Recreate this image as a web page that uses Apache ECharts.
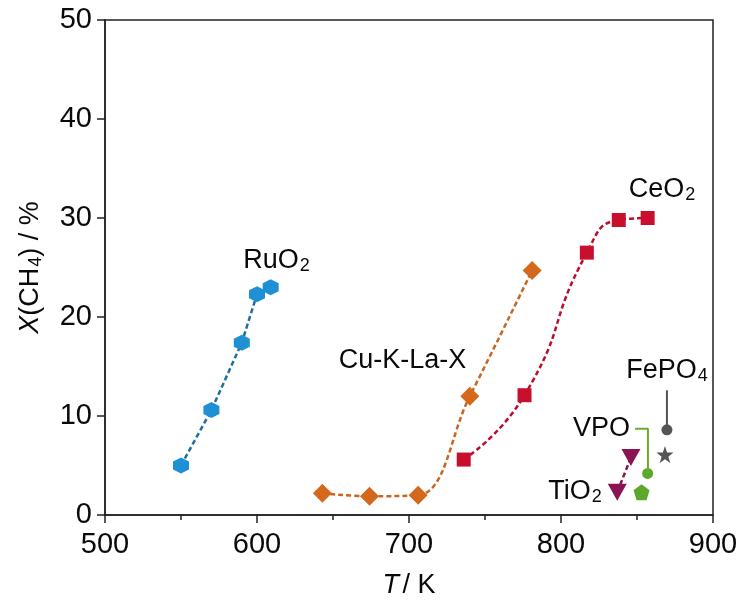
<!DOCTYPE html>
<html><head><meta charset="utf-8">
<script src="https://cdn.jsdelivr.net/npm/echarts@6/dist/echarts.min.js"></script>
<style>html,body{margin:0;padding:0;background:#fff}#c{width:743px;height:601px}</style>
</head><body><div id="c"></div>
<script>
// ---- data ----
const ruO2 = [[550, 5.0], [570, 10.6], [590, 17.4], [600, 22.3], [609, 23.0]];
const cuKLaX = [[643, 2.2], [674, 1.9], [706, 2.0], [740, 12.0], [781, 24.7]];
const ceO2 = [[736, 5.6], [776, 12.1], [817, 26.5], [838, 29.8], [857, 30.0]];
const tiO2 = [[837, 2.3], [846, 5.8]];
const vpo = [[857, 4.2]];
const vpoPent = [[853, 2.3]];
const fePO4 = [[869.7, 8.6]];
const fePO4Star = [[868.4, 6.1]];
const xTicks = [500, 600, 700, 800, 900];
const yTicks = [0, 10, 20, 30, 40, 50];
// annotation anchors (data coords) and leaders
const labels = [
  {x: 612.8, y: 25.7, t: '{n|RuO}{s|2}'},
  {x: 695.7, y: 15.6, t: '{n|Cu-K-La-X}'},
  {x: 866.4, y: 32.8, t: '{n|CeO}{s|2}'},
  {x: 869.7, y: 14.5, t: '{n|FePO}{s|4}'},
  {x: 826.6, y: 8.7, t: '{n|VPO}'},
  {x: 809.2, y: 2.3, t: '{n|TiO}{s|2}'}
];
const fePO4Leader = [[869.7, 12.6], [869.7, 8.6]];
const vpoLeader = [[848.7, 8.7], [857.2, 8.7], [857.2, 4.2]];

const FS = 27;
const TFS = 29;
const FF = 'Liberation Sans, Arial';
const TC = '#0a0a0a';
const rich = {
  n: {fontSize: FS, fontFamily: FF, color: TC, lineHeight: 28, verticalAlign: 'top', textBorderWidth: 0},
  s: {fontSize: 18, fontFamily: FF, color: TC, lineHeight: 18, padding: [14, 0, 0, 1], verticalAlign: 'bottom', textBorderWidth: 0},
  i: {fontSize: FS, fontFamily: FF, color: TC, fontStyle: 'italic', lineHeight: 28, verticalAlign: 'top', textBorderWidth: 0}
};

const chart = echarts.init(document.getElementById('c'));
const axisCol = '#222';
chart.setOption({
  animation: false,
  grid: {left: 105, right: 30, top: 20, bottom: 86, containLabel: false, outerBoundsMode: 'none',
         show: true, borderColor: axisCol, borderWidth: 1.5, backgroundColor: 'transparent'},
  xAxis: {
    type: 'value', min: xTicks[0], max: xTicks[xTicks.length - 1], interval: 100,
    name: '{i|T} {n|/ K}', nameLocation: 'middle', nameGap: 57,
    nameTextStyle: {rich: rich},
    axisLine: {lineStyle: {color: axisCol, width: 1.5}},
    axisTick: {length: 8, lineStyle: {color: axisCol, width: 1.5}},
    minorTick: {show: true, splitNumber: 2, length: 5, lineStyle: {color: axisCol, width: 1.5}},
    axisLabel: {fontSize: TFS, color: TC, fontFamily: FF, margin: 15},
    splitLine: {show: false}
  },
  yAxis: {
    type: 'value', min: yTicks[0], max: yTicks[yTicks.length - 1], interval: 10,
    name: '{i|X}{n|(CH}{s|4}{n|) / %}', nameLocation: 'middle', nameGap: 60, nameRotate: 90,
    nameTextStyle: {rich: rich},
    axisLine: {lineStyle: {color: axisCol, width: 1.5}},
    axisTick: {length: 8, lineStyle: {color: axisCol, width: 1.5}},
    axisLabel: {fontSize: TFS, color: TC, fontFamily: FF, margin: 13},
    splitLine: {show: false}
  },
  series: [
    {type: 'line', data: ruO2, smooth: false, symbol: 'path://M0,-10L8.66,-5L8.66,5L0,10L-8.66,5L-8.66,-5Z', symbolSize: 16,
     itemStyle: {color: '#1f90d3'}, lineStyle: {color: '#1d6f9e', width: 2.5, type: [5, 3]}},
    {type: 'line', data: cuKLaX, smooth: 0.4, symbol: 'diamond', symbolSize: 19,
     itemStyle: {color: '#d4681c'}, lineStyle: {color: '#c8651e', width: 2.5, type: [5, 3]}},
    {type: 'line', data: ceO2, smooth: 0.55, symbol: 'rect', symbolSize: 14,
     itemStyle: {color: '#c8102e'}, lineStyle: {color: '#b8102e', width: 2.5, type: [5, 3]}},
    {type: 'line', data: tiO2, symbol: 'triangle', symbolRotate: 180, symbolSize: [19, 17],
     itemStyle: {color: '#8a1452'}, lineStyle: {color: '#8a1452', width: 2.5, type: [5, 3]}},
    {type: 'line', data: vpoLeader, symbol: 'none', lineStyle: {color: '#6aab2e', width: 2}},
    {type: 'line', data: fePO4Leader, symbol: 'none', lineStyle: {color: '#555', width: 2}},
    {type: 'scatter', data: vpo, symbol: 'circle', symbolSize: 11, itemStyle: {color: '#5ba82a', opacity: 1}},
    {type: 'scatter', data: vpoPent, symbol: 'path://M0,-10L9.51,-3.09L5.88,8.09L-5.88,8.09L-9.51,-3.09Z', symbolSize: 16, itemStyle: {color: '#5ba82a', opacity: 1}},
    {type: 'scatter', data: fePO4, symbol: 'circle', symbolSize: 11, itemStyle: {color: '#555', opacity: 1}},
    {type: 'scatter', data: fePO4Star, symbol: 'path://M0,-10L2.35,-3.24L9.51,-3.09L3.80,1.24L5.88,8.09L0,4L-5.88,8.09L-3.80,1.24L-9.51,-3.09L-2.35,-3.24Z', symbolSize: 17, itemStyle: {color: '#555', opacity: 1}},
    {type: 'scatter', symbolSize: 0, silent: true, itemStyle: {color: TC, opacity: 1},
     data: labels.map(l => ({value: [l.x, l.y], label: {show: true, position: 'inside', formatter: l.t, color: TC, textBorderWidth: 0, rich: rich}}))}
  ]
});
</script></body></html>
